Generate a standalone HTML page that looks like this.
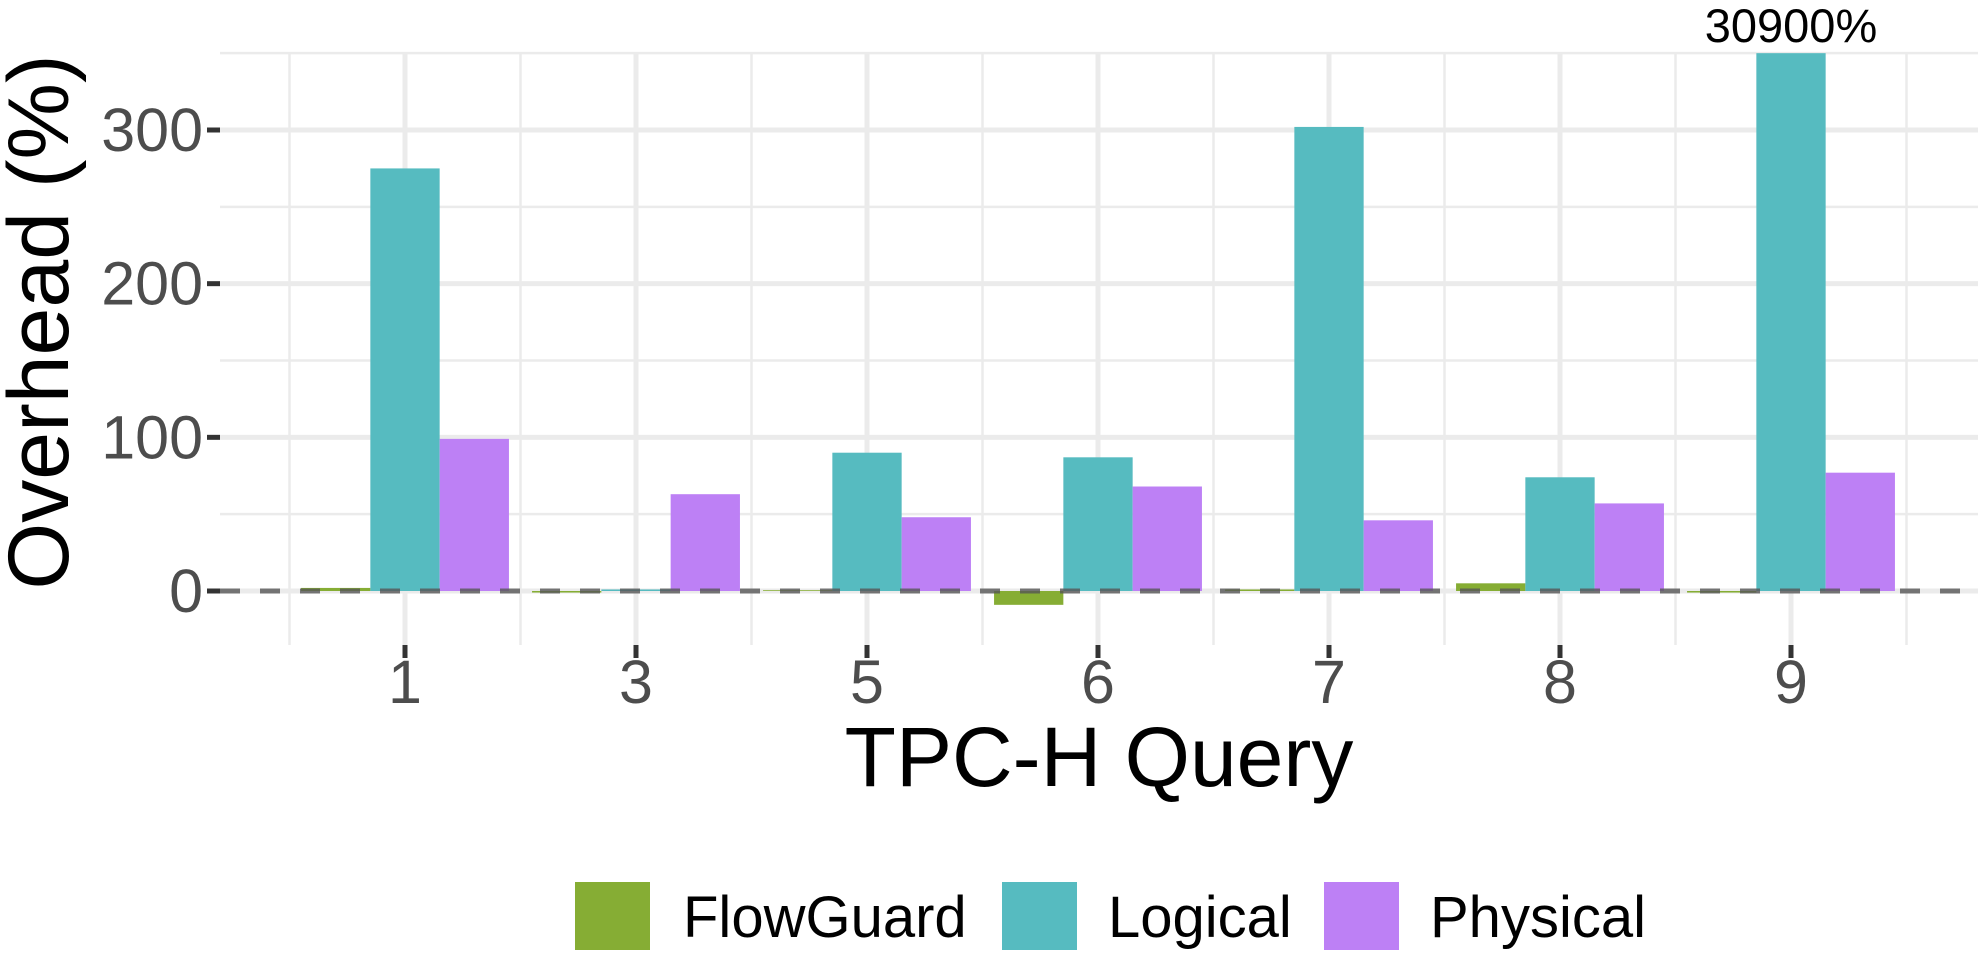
<!DOCTYPE html>
<html><head><meta charset="utf-8"><style>
html,body{margin:0;padding:0;background:#fff;}
svg{display:block;font-family:"Liberation Sans",Arial,sans-serif;}
</style></head><body>
<svg id="chart" width="1984" height="964" viewBox="0 0 1984 964" xmlns="http://www.w3.org/2000/svg">
<g id="grid"></g>
<g id="bars"></g>
<g id="axes"></g>
<text x="68" y="322" transform="rotate(-90 68 322)" text-anchor="middle" font-size="86" fill="#000">Overhead (%)</text>
<text x="1099" y="786" text-anchor="middle" font-size="84" fill="#000">TPC-H Query</text>
<g>
<g><rect x="575" y="882" width="75" height="68" fill="#86ad34"/><text x="683" y="937" font-size="58" fill="#000">FlowGuard</text></g>
<g><rect x="1002" y="882" width="75" height="68" fill="#56bbc0"/><text x="1108" y="937" font-size="58" fill="#000">Logical</text></g>
<g><rect x="1324" y="882" width="75" height="68" fill="#bd80f5"/><text x="1430" y="937" font-size="58" fill="#000">Physical</text></g>
</g>
</svg>
<script>
const categories = ["1","3","5","6","7","8","9"];
const flowguard = [2, -1, 0.5, -9, 1, 5, -1];
const logical = [275, 1, 90, 87, 302, 74, 30900];
const physical = [99, 63, 48, 68, 46, 57, 77];
const yTicks = [0, 100, 200, 300];
const yMinor = [50, 150, 250, 350];

const NS = "http://www.w3.org/2000/svg";
const panel = {left: 220, right: 1978, top: 53, bottom: 645};
const yMax = 350;
function y(v){ return 591 - (v) * (591 - 130) / 300; }
const step = 231;
function x(i){ return 405 + i * step; }
const barW = 69.3;
function mk(tag, attrs, parent){ const e = document.createElementNS(NS, tag); for (const k in attrs) e.setAttribute(k, attrs[k]); parent.appendChild(e); return e; }

const grid = document.getElementById('grid');
const bars = document.getElementById('bars');
const axes = document.getElementById('axes');

yMinor.forEach(v => {
  const l = mk('line', {x1: panel.left, x2: panel.right, y1: y(v), y2: y(v), stroke: '#ebebeb', 'stroke-width': 2.5}, grid);
  
  
});
for (let i = -1; i < categories.length; i++) {
  const xm = x(i) + step / 2;
  const l = mk('line', {x1: xm, x2: xm, y1: panel.top, y2: panel.bottom, stroke: '#ebebeb', 'stroke-width': 2.5}, grid);
  
  
}
yTicks.forEach(v => {
  const l = mk('line', {x1: panel.left, x2: panel.right, y1: y(v), y2: y(v), stroke: '#ebebeb', 'stroke-width': 5}, grid);
  
  
  const t = mk('line', {x1: 207, x2: panel.left, y1: y(v), y2: y(v), stroke: '#333', 'stroke-width': 5}, axes);
  
  
  const lb = mk('text', {x: 203, y: y(v) + 21, 'text-anchor': 'end', 'font-size': 61, fill: '#4d4d4d'}, axes);
  lb.textContent = v;
  
  
});
categories.forEach((c, i) => {
  const l = mk('line', {x1: x(i), x2: x(i), y1: panel.top, y2: panel.bottom, stroke: '#ebebeb', 'stroke-width': 5}, grid);
  
  
  const t = mk('line', {x1: x(i), x2: x(i), y1: panel.bottom, y2: panel.bottom + 13, stroke: '#333', 'stroke-width': 5}, axes);
  
  
  const lb = mk('text', {x: x(i), y: 703, 'text-anchor': 'middle', 'font-size': 61, fill: '#4d4d4d'}, axes);
  lb.textContent = c;
  
  
});

const series = [
  {name: 'flowguard', vals: flowguard, color: '#86ad34', off: -1},
  {name: 'logical', vals: logical, color: '#56bbc0', off: 0},
  {name: 'physical', vals: physical, color: '#bd80f5', off: 1}
];
series.forEach(s => {
  s.vals.forEach((v, i) => {
    const vc = Math.max(Math.min(v, yMax), -20);
    const y0 = y(0), y1 = y(vc);
    const cx = x(i) + s.off * barW;
    const r = mk('rect', {x: cx - barW / 2, y: Math.min(y0, y1), width: barW, height: Math.max(Math.abs(y1 - y0), 0.5), fill: s.color}, bars);
    
    
    if (v > yMax) {
      const t = mk('text', {x: cx, y: 42, 'text-anchor': 'middle', 'font-size': 47, fill: '#000'}, axes);
      t.textContent = v + '%';
      
      
    }
  });
});
const z = mk('line', {x1: panel.left, x2: panel.right, y1: y(0), y2: y(0), stroke: '#555', 'stroke-opacity': 0.8, 'stroke-width': 5, 'stroke-dasharray': '20,20'}, bars);


</script>
</body></html>
